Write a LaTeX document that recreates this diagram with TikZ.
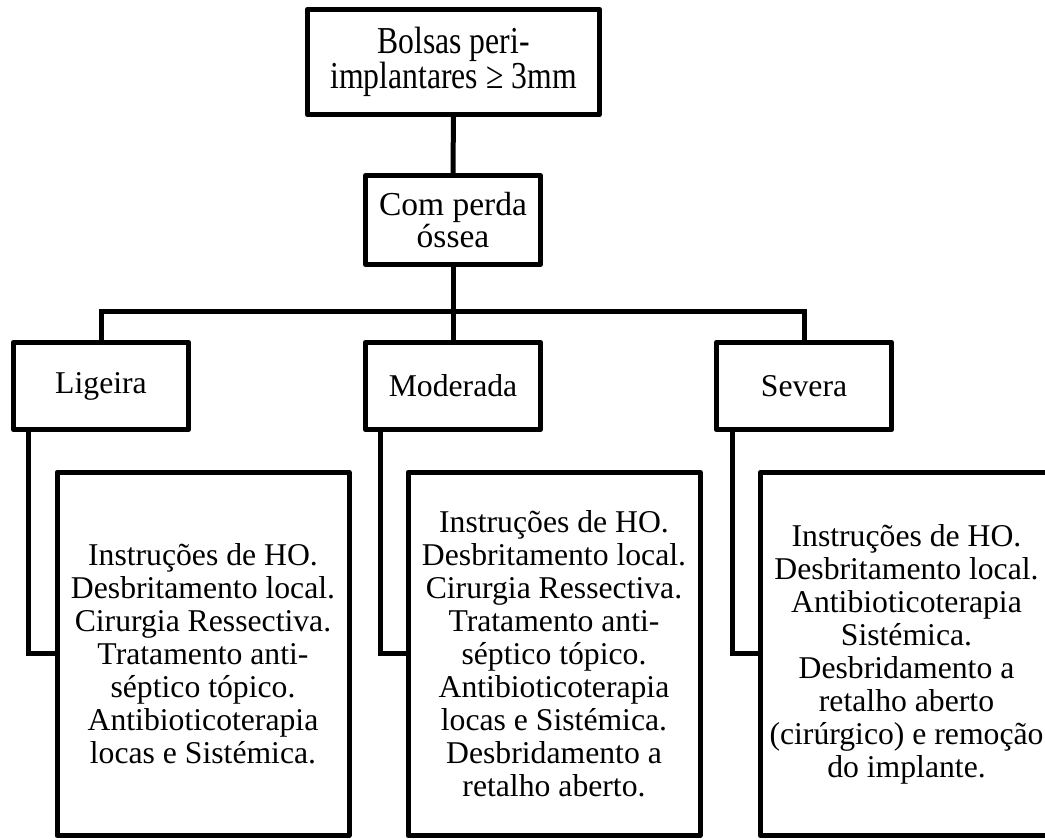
\documentclass[tikz,border=0pt]{standalone}
\usepackage{fontspec}
\usepackage{graphicx}
\setmainfont{Liberation Serif}
\usetikzlibrary{calc}
\tikzstyle{cell} = [draw, line width=5pt, line join=round, align=center, inner sep=0pt, font=\fontsize{31.7}{33}\selectfont]
\tikzstyle{rootbox} = [cell, minimum width=292pt, minimum height=105.5pt]
\tikzstyle{lossbox} = [cell, minimum width=175pt, minimum height=89pt, font=\fontsize{33.5}{28}\selectfont]
\tikzstyle{gradebox} = [cell, minimum width=175pt, minimum height=87.5pt]
\tikzstyle{treatbox} = [cell, minimum width=292pt, minimum height=363.5pt]
\tikzstyle{connector} = [line width=5pt]
% stretched two-line label of the top box
\newcommand{\tallrows}[3]{\scalebox{1}[#1]{\fontsize{31.7}{#2}\selectfont\begin{tabular}{@{}c@{}}#3\end{tabular}}}

\begin{document}
\begin{tikzpicture}[x=1pt, y=1pt]
    \useasboundingbox (0,0) rectangle (1045,840);
    \draw (453.5,778) node[rootbox] (bolsas) {\tallrows{1.2}{21.7}{Bolsas peri-\\implantares ≥ 3mm}};
    \draw (453,620) node[lossbox] (perda) {Com perda\\óssea};
    \draw (101,454) node[gradebox] (ligeira) {Ligeira};
    \draw (453,454) node[gradebox] (moderada) {Moderada};
    \draw (804,454) node[gradebox] (severa) {Severa};
    \draw (203,186) node[treatbox] (tligeira) {Instruções de HO.\\Desbritamento local.\\Cirurgia Ressectiva.\\Tratamento anti-\\séptico tópico.\\Antibioticoterapia\\locas e Sistémica.};
    \draw (554,186) node[treatbox] (tmoderada) {Instruções de HO.\\Desbritamento local.\\Cirurgia Ressectiva.\\Tratamento anti-\\séptico tópico.\\Antibioticoterapia\\locas e Sistémica.\\Desbridamento a\\retalho aberto.};
    \draw (906.5,186) node[treatbox] (tsevera) {Instruções de HO.\\Desbritamento local.\\Antibioticoterapia\\Sistémica.\\Desbridamento a\\retalho aberto\\(cirúrgico) e remoção\\do implante.};
    \coordinate (bar) at (453,528);
    \draw [connector] (bolsas) -- (perda);
    \draw [connector] (perda) -- (moderada);
    \draw [connector] (ligeira) |- (bar) -| (severa);
    \draw [connector] ([xshift=17pt]ligeira.south west) |- (tligeira);
    \draw [connector] ([xshift=17pt]moderada.south west) |- (tmoderada);
    \draw [connector] ([xshift=18pt]severa.south west) |- (tsevera);
\end{tikzpicture}
\end{document}
